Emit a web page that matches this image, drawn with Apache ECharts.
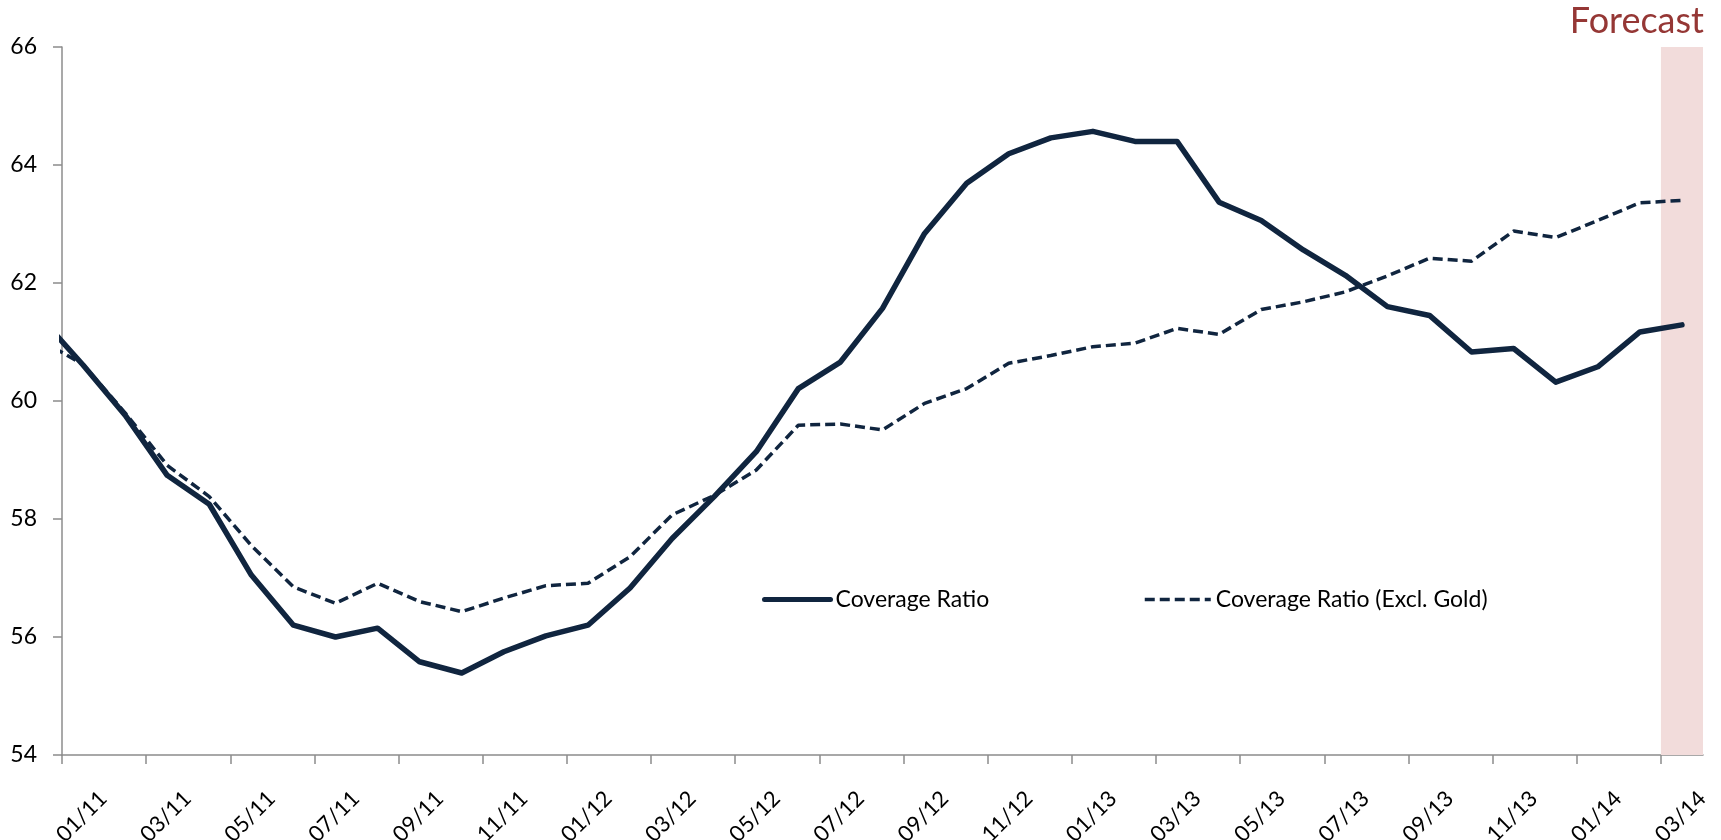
<!DOCTYPE html>
<html>
<head>
<meta charset="utf-8">
<script src="https://cdn.jsdelivr.net/npm/echarts@6/dist/echarts.min.js"></script>
<style>
html,body{margin:0;padding:0;background:#fff;}
#chart{width:1721px;height:840px;}
</style>
</head>
<body>
<div id="chart"></div>
<script>
// Months: first entry (12/10) lies just left of the plotted range and is clipped
var months = ['12/10',
  '01/11','02/11','03/11','04/11','05/11','06/11','07/11','08/11','09/11','10/11','11/11','12/11',
  '01/12','02/12','03/12','04/12','05/12','06/12','07/12','08/12','09/12','10/12','11/12','12/12',
  '01/13','02/13','03/13','04/13','05/13','06/13','07/13','08/13','09/13','10/13','11/13','12/13',
  '01/14','02/14','03/14'];
var tickLabels = ['01/11','03/11','05/11','07/11','09/11','11/11','01/12','03/12','05/12','07/12',
  '09/12','11/12','01/13','03/13','05/13','07/13','09/13','11/13','01/14','03/14'];
var coverageRatio = [61.41,
  60.61,59.76,58.74,58.25,57.05,56.20,56.00,56.15,55.58,55.39,55.75,56.02,
  56.20,56.83,57.67,58.38,59.14,60.21,60.66,61.57,62.84,63.69,64.19,64.46,
  64.57,64.40,64.40,63.37,63.06,62.56,62.13,61.60,61.45,60.83,60.89,60.32,
  60.58,61.17,61.29];
var coverageExGold = [61.03,
  60.62,59.80,58.91,58.38,57.55,56.85,56.57,56.91,56.60,56.43,56.66,56.87,
  56.91,57.36,58.07,58.40,58.83,59.59,59.61,59.51,59.96,60.21,60.64,60.77,
  60.92,60.98,61.23,61.13,61.55,61.68,61.85,62.12,62.42,62.37,62.88,62.77,
  63.06,63.36,63.40];
var seriesNames = ['Coverage Ratio', 'Coverage Ratio (Excl. Gold)'];
var forecastLabel = 'Forecast';
var forecastMonth = '03/14';

var FONT = 'Lato';
var lineColor = '#10253F';
var axisColor = '#8C8C8C';
var dash = [10, 5];

// x position: month k (01/11 = 0) sits in the middle of its slot [k, k+1]
function toPts(arr) {
  return arr.map(function (v, i) { return [i - 1 + 0.5, v]; });
}
var nMonths = months.length - 1; // plotted months
var tickVals = tickLabels.map(function (_, i) { return i * 2; });
var labelShift = 0.98;
var labelVals = tickVals.map(function (v) { return v + labelShift; });
var fIdx = months.indexOf(forecastMonth) - 1;

var legendText = {fontFamily: FONT, fontSize: 23, color: '#000'};

var chart = echarts.init(document.getElementById('chart'), null, {renderer: 'canvas'});
chart.setOption({
  animation: false,
  backgroundColor: '#ffffff',
  title: {
    text: forecastLabel,
    right: 12, top: -2,
    textStyle: {fontFamily: FONT, fontSize: 36, fontWeight: 'normal', color: '#953735'}
  },
  legend: [{
    data: [seriesNames[0]],
    left: 757, top: 583,
    itemWidth: 66, itemHeight: 14, itemGap: 8,
    itemStyle: {opacity: 0},
    lineStyle: {width: 5, cap: 'round'},
    textStyle: legendText
  }, {
    data: [seriesNames[1]],
    left: 1138, top: 583,
    itemWidth: 66, itemHeight: 14, itemGap: 8,
    itemStyle: {opacity: 0},
    lineStyle: {width: 3.5, type: dash},
    textStyle: legendText
  }],
  grid: {left: 62, right: 18, top: 47, bottom: 85, containLabel: false, outerBoundsMode: 'none'},
  xAxis: {
    type: 'value', min: 0, max: nMonths,
    splitLine: {show: false},
    axisLine: {show: true, lineStyle: {color: axisColor, width: 1.5}},
    axisTick: {show: true, length: 9, customValues: tickVals, lineStyle: {color: axisColor, width: 1.5}},
    axisLabel: {
      customValues: labelVals,
      rotate: 45, margin: 40,
      fontFamily: FONT, fontSize: 22, color: '#000',
      formatter: function (v) { return tickLabels[Math.round((v - labelShift) / 2)] || ''; }
    }
  },
  yAxis: {
    type: 'value', min: 54, max: 66, interval: 2,
    splitLine: {show: false},
    axisLine: {show: true, lineStyle: {color: axisColor, width: 1.5}},
    axisTick: {show: true, length: 9, lineStyle: {color: axisColor, width: 1.5}},
    axisLabel: {margin: 25, fontFamily: FONT, fontSize: 23, color: '#000'}
  },
  series: [{
    name: 'forecastBand', type: 'line', data: [], z: 1,
    markArea: {
      silent: true,
      itemStyle: {color: '#F2DCDB'},
      data: [[{xAxis: fIdx}, {xAxis: fIdx + 1}]]
    }
  }, {
    name: seriesNames[1], type: 'line', z: 3,
    data: toPts(coverageExGold),
    symbol: 'none', clip: true,
    lineStyle: {color: lineColor, width: 3.5, type: dash, cap: 'butt', join: 'round'},
    itemStyle: {color: lineColor}
  }, {
    name: seriesNames[0], type: 'line', z: 4,
    data: toPts(coverageRatio),
    symbol: 'none', clip: true,
    lineStyle: {color: lineColor, width: 5.5, cap: 'round', join: 'round'},
    itemStyle: {color: lineColor}
  }]
});
</script>
</body>
</html>
